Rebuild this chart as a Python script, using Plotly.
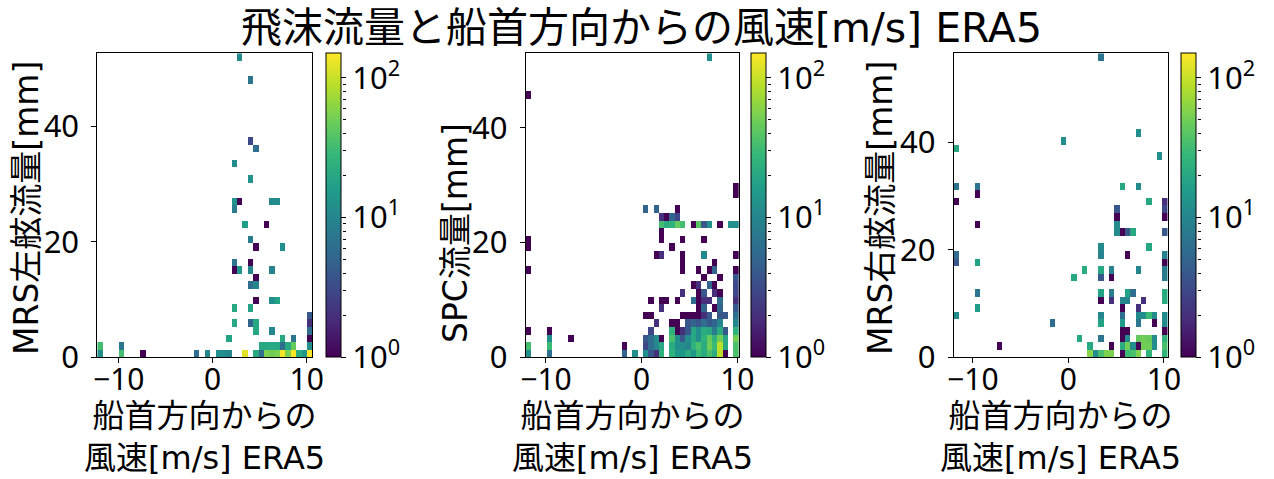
import numpy as np
import plotly.graph_objects as go

TITLE = "飛沫流量と船首方向からの風速[m/s] ERA5"
X_TITLE = "船首方向からの<br>風速[m/s] ERA5"
Y_TITLES = ["MRS左舷流量[mm]", "SPC流量[mm]", "MRS右舷流量[mm]"]
N_BINS = 40

# ---- MRS port side: wind from bow [m/s], spray flux [mm], sample count ----
port_wind_range = (-12.28, 10.6)
port_flux_range = (0.0, 52.6)
port_wind = [
    -12.0, -9.7, -7.4, -1.7, -0.5, 0.6, 1.2, 1.7, 3.4, 4.6, 5.2, 5.7, 6.3, 6.9, 7.5, 8.0, 8.6, 9.2, 9.7, 10.3,
    -12.0, -9.7, 5.2, 5.7, 6.3, 6.9, 7.5, 8.0, 8.6, 10.3,
    1.7, 7.5, 8.6, 10.3,
    4.6, 6.3, 10.3,
    2.3, 4.0, 4.6, 10.3,
    10.3,
    2.3, 4.0,
    4.6, 6.3, 6.9,
    4.0, 4.6,
    4.6,
    2.3, 2.9, 4.0, 6.3,
    2.3, 4.0,
    4.6, 7.5,
    4.0,
    3.4, 5.7,
    2.3,
    2.3, 2.9, 6.3, 6.9,
    4.0,
    2.3,
    4.6,
    4.0,
    4.0,
    2.9,
]
port_flux = [
    0.7, 0.7, 0.7, 0.7, 0.7, 0.7, 0.7, 0.7, 0.7, 0.7, 0.7, 0.7, 0.7, 0.7, 0.7, 0.7, 0.7, 0.7, 0.7, 0.7,
    2.0, 2.0, 2.0, 2.0, 2.0, 2.0, 2.0, 2.0, 2.0, 2.0,
    3.3, 3.3, 3.3, 3.3,
    4.6, 4.6, 4.6,
    5.9, 5.9, 5.9, 5.9,
    7.2,
    8.5, 8.5,
    9.9, 9.9, 9.9,
    12.5, 12.5,
    13.8,
    15.1, 15.1, 15.1, 15.1,
    16.4, 16.4,
    19.1, 19.1,
    20.4,
    23.0, 23.0,
    25.6,
    27.0, 27.0, 27.0, 27.0,
    30.9,
    33.5,
    36.2,
    37.5,
    48.0,
    51.9,
]
port_count = [
    12, 33, 1, 6, 10, 12, 12, 10, 120, 20, 6, 55, 50, 55, 140, 55, 150, 22, 14, 150,
    33, 7, 20, 20, 20, 20, 6, 20, 45, 12,
    18, 20, 7, 1,
    20, 10, 6,
    20, 5, 20, 2,
    4,
    20, 18,
    1, 12, 18,
    6, 10,
    1,
    1, 14, 10, 9,
    7, 1,
    1, 12,
    8,
    16, 1,
    8,
    13, 1, 11, 11,
    13,
    11,
    6,
    3,
    7,
    11,
]

# ---- SPC ----
spc_wind_range = (-12.12, 10.17)
spc_flux_range = (0.0, 53.0)
spc_wind = [
    -11.8, -9.6, -1.8, -0.7, 0.4, 1.0, 1.5, 2.1, 3.2, 3.8, 4.3, 4.9, 5.4, 6.0, 6.5, 7.1, 7.7, 8.2, 8.8, 9.9,
    -11.8, -9.6, -1.8, 0.4, 1.0, 1.5, 2.1, 3.2, 3.8, 4.3, 4.9, 5.4, 6.0, 6.5, 7.1, 7.7, 8.2, 8.8, 9.9,
    -9.6, -7.4, 0.4, 1.0, 1.5, 2.1, 3.2, 3.8, 4.3, 4.9, 5.4, 6.0, 6.5, 7.1, 7.7, 8.2, 8.8, 9.9,
    -11.8, -9.6, 1.0, 3.2, 3.8, 4.3, 4.9, 5.4, 6.0, 6.5, 7.1, 7.7, 8.2, 8.8, 9.9,
    1.5, 3.2, 3.8, 4.9, 5.4, 6.0, 6.5, 7.1, 7.7, 8.2, 9.9,
    0.4, 1.0, 4.3, 4.9, 5.4, 6.0, 6.5, 7.1, 8.2, 8.8, 9.9,
    2.1, 6.0, 6.5, 7.7, 8.2, 9.9,
    1.0, 2.1, 2.6, 3.8, 5.4, 6.0, 6.5, 7.1, 8.2, 9.9,
    4.3, 6.0, 6.5, 7.7, 8.2, 9.9,
    5.4, 6.0, 7.1, 7.7, 9.9,
    6.5, 8.2, 9.9,
    -11.8, 4.3, 6.0, 7.1, 7.7, 9.9,
    4.3, 7.7,
    1.5, 2.1, 4.3, 6.5, 9.9,
    -11.8, 3.2,
    -11.8, 2.1, 4.3, 6.5,
    2.1,
    2.1, 2.6, 3.2, 3.8, 4.3, 5.4, 6.0, 6.5, 7.1, 8.2, 9.3, 9.9,
    2.1, 2.6, 3.2, 3.8,
    0.4, 1.5, 3.8,
    9.9,
    9.9,
    -11.8,
    7.1,
]
spc_flux = [
    0.7, 0.7, 0.7, 0.7, 0.7, 0.7, 0.7, 0.7, 0.7, 0.7, 0.7, 0.7, 0.7, 0.7, 0.7, 0.7, 0.7, 0.7, 0.7, 0.7,
    2.0, 2.0, 2.0, 2.0, 2.0, 2.0, 2.0, 2.0, 2.0, 2.0, 2.0, 2.0, 2.0, 2.0, 2.0, 2.0, 2.0, 2.0, 2.0,
    3.3, 3.3, 3.3, 3.3, 3.3, 3.3, 3.3, 3.3, 3.3, 3.3, 3.3, 3.3, 3.3, 3.3, 3.3, 3.3, 3.3, 3.3,
    4.6, 4.6, 4.6, 4.6, 4.6, 4.6, 4.6, 4.6, 4.6, 4.6, 4.6, 4.6, 4.6, 4.6, 4.6,
    6.0, 6.0, 6.0, 6.0, 6.0, 6.0, 6.0, 6.0, 6.0, 6.0, 6.0,
    7.3, 7.3, 7.3, 7.3, 7.3, 7.3, 7.3, 7.3, 7.3, 7.3, 7.3,
    8.6, 8.6, 8.6, 8.6, 8.6, 8.6,
    9.9, 9.9, 9.9, 9.9, 9.9, 9.9, 9.9, 9.9, 9.9, 9.9,
    11.3, 11.3, 11.3, 11.3, 11.3, 11.3,
    12.6, 12.6, 12.6, 12.6, 12.6,
    13.9, 13.9, 13.9,
    15.2, 15.2, 15.2, 15.2, 15.2, 15.2,
    16.6, 16.6,
    17.9, 17.9, 17.9, 17.9, 17.9,
    19.2, 19.2,
    20.5, 20.5, 20.5, 20.5,
    21.9,
    23.2, 23.2, 23.2, 23.2, 23.2, 23.2, 23.2, 23.2, 23.2, 23.2, 23.2, 23.2,
    24.5, 24.5, 24.5, 24.5,
    25.8, 25.8, 25.8,
    28.5,
    29.8,
    45.7,
    52.3,
]
spc_count = [
    12, 6, 5, 12, 12, 4, 2, 25, 25, 14, 14, 22, 14, 30, 22, 35, 22, 90, 1, 35,
    33, 30, 1, 3, 6, 10, 20, 22, 12, 12, 10, 25, 35, 22, 50, 30, 90, 20, 35,
    12, 1, 4, 6, 12, 1, 35, 12, 4, 12, 20, 12, 25, 45, 25, 50, 20, 50,
    1, 1, 3, 25, 1, 2, 4, 20, 12, 22, 20, 8, 22, 4, 25,
    2, 1, 1, 4, 5, 4, 6, 4, 5, 10, 10,
    1, 1, 1, 1, 1, 1, 2, 4, 4, 4, 6,
    2, 1, 5, 1, 5, 4,
    1, 1, 1, 1, 6, 1, 2, 2, 6, 2,
    2, 1, 4, 2, 1, 3,
    1, 2, 5, 1, 3,
    1, 1, 4,
    1, 1, 1, 1, 5, 1,
    1, 1,
    1, 2, 1, 11, 1,
    1, 1,
    1, 1, 1, 1,
    1,
    33, 22, 25, 45, 33, 1, 40, 4, 12, 1, 12, 12,
    2, 1, 5, 3,
    5, 5, 1,
    1,
    1,
    1,
    12,
]

# ---- MRS starboard side ----
stbd_wind_range = (-12.0, 10.4)
stbd_flux_range = (0.0, 56.6)
stbd_wind = [
    2.3, 2.8, 3.4, 4.0, 4.5, 5.6, 6.2, 6.8, 7.3, 8.4, 10.1,
    -7.2, 2.3, 4.5, 5.6, 6.2, 6.8, 7.3, 7.9, 8.4, 9.0, 10.1,
    1.2, 3.4, 5.6, 6.2, 7.3, 7.9, 8.4, 9.0, 10.1,
    5.6, 6.2, 10.1,
    -1.6, 3.4, 5.6, 7.3, 9.0, 10.1,
    -11.7, 3.4, 5.6, 7.3, 7.9, 8.4, 9.0, 10.1,
    -9.5, 5.6, 7.3,
    3.4, 4.5, 5.6, 6.2, 7.9, 10.1,
    -9.5, 3.4, 4.5, 6.2, 6.8, 10.1,
    0.6, 3.4, 4.5, 10.1,
    1.7, 3.4, 4.5, 7.3, 10.1,
    -11.7, -9.5, 10.1,
    -11.7, 3.4, 6.2, 10.1,
    3.4, 8.4,
    5.1, 5.6, 6.2, 6.8, 10.1,
    -9.5, 5.1,
    5.1, 10.1,
    5.1, 10.1,
    -11.7, 8.4, 10.1,
    -9.5,
    -11.7, -9.5, 5.6, 7.3,
    9.6,
    -11.7,
    -0.5,
    7.3,
    3.4,
]
stbd_flux = [
    0.7, 0.7, 0.7, 0.7, 0.7, 0.7, 0.7, 0.7, 0.7, 0.7, 0.7,
    2.1, 2.1, 2.1, 2.1, 2.1, 2.1, 2.1, 2.1, 2.1, 2.1, 2.1,
    3.5, 3.5, 3.5, 3.5, 3.5, 3.5, 3.5, 3.5, 3.5,
    5.0, 5.0, 5.0,
    6.4, 6.4, 6.4, 6.4, 6.4, 6.4,
    7.8, 7.8, 7.8, 7.8, 7.8, 7.8, 7.8, 7.8,
    9.2, 9.2, 9.2,
    10.6, 10.6, 10.6, 10.6, 10.6, 10.6,
    12.0, 12.0, 12.0, 12.0, 12.0, 12.0,
    14.9, 14.9, 14.9, 14.9,
    16.3, 16.3, 16.3, 16.3, 16.3,
    17.7, 17.7, 17.7,
    19.1, 19.1, 19.1, 19.1,
    20.5, 20.5,
    23.3, 23.3, 23.3, 23.3, 23.3,
    24.8, 24.8,
    26.2, 26.2,
    27.6, 27.6,
    29.0, 29.0, 29.0,
    30.4,
    31.8, 31.8, 31.8, 31.8,
    37.5,
    38.9,
    40.3,
    41.7,
    55.9,
]
stbd_count = [
    60, 12, 35, 55, 55, 1, 30, 35, 55, 25, 25,
    1, 20, 1, 22, 50, 12, 1, 50, 50, 12, 35,
    20, 7, 1, 11, 45, 50, 45, 11, 25,
    1, 1, 1,
    6, 18, 16, 7, 1, 11,
    11, 10, 6, 11, 12, 30, 11, 11,
    16, 1, 2,
    1, 2, 10, 10, 2, 22,
    7, 18, 8, 18, 6, 22,
    20, 4, 1, 8,
    22, 20, 9, 10, 8,
    4, 18, 1,
    6, 9, 1, 9,
    11, 20,
    11, 1, 4, 20, 4,
    1, 11,
    1, 1,
    4, 3,
    1, 20, 2,
    1,
    7, 7, 20, 11,
    12,
    20,
    12,
    12,
    7,
]

LABEL_FONT = "DejaVu Sans, Noto Sans CJK JP, sans-serif"
TICK_FONT = "Noto Sans, DejaVu Sans, sans-serif"
W, H = 1274, 479

panels = [
    (port_wind, port_flux, port_count, port_wind_range, port_flux_range),
    (spc_wind, spc_flux, spc_count, spc_wind_range, spc_flux_range),
    (stbd_wind, stbd_flux, stbd_count, stbd_wind_range, stbd_flux_range),
]

# pixel layout of the three axes boxes, colour bars and axis labels
x_px = [(97.3, 312.3), (525.7, 739.0), (953.7, 1167.7)]
cb_px = [326.0, 751.0, 1181.0]
cb_w = 15
ylab_x_px = [26.0, 455.0, 880.0]
ylab_bottom_px = [357.0, 345.0, 357.0]
y_top_px, y_bot_px = 53.3, 357.3
y_dom = [1 - y_bot_px / H, 1 - y_top_px / H]

# shared logarithmic colour normalisation
z_top = np.log10(max(max(port_count), max(spc_count), max(stbd_count)))
minor_counts = [2, 3, 4, 5, 6, 7, 8, 9, 20, 30, 40, 50, 60, 70, 80, 90]

fig = go.Figure()
annotations = []
for i, (wind, flux, count, wr, fr) in enumerate(panels):
    xe = np.linspace(wr[0], wr[1], N_BINS + 1)
    ye = np.linspace(fr[0], fr[1], N_BINS + 1)
    h, _, _ = np.histogram2d(wind, flux, bins=[xe, ye], weights=count)
    z = np.full(h.shape, np.nan)
    z[h > 0] = np.log10(h[h > 0])
    sfx = "" if i == 0 else str(i + 1)
    fig.add_trace(go.Heatmap(
        x=xe, y=ye, z=z.T,
        xaxis="x" + sfx, yaxis="y" + sfx,
        colorscale="Viridis", zmin=0, zmax=z_top,
        hoverongaps=False,
        colorbar=dict(
            x=cb_px[i] / W, xanchor="left", xpad=0,
            y=y_dom[0], yanchor="bottom", ypad=0,
            len=y_bot_px - y_top_px, lenmode="pixels",
            thickness=cb_w, thicknessmode="pixels",
            outlinewidth=1, outlinecolor="black",
            ticks="outside", ticklen=5, tickwidth=1, tickcolor="black",
            tickvals=[0, 1, 2],
            ticktext=["10<sup>0</sup>", "10<sup>1</sup>", "10<sup>2</sup>"],
            tickfont=dict(size=31, color="black", family=TICK_FONT),
        ),
    ))
    ax = dict(
        domain=[x_px[i][0] / W, x_px[i][1] / W],
        range=list(wr), anchor="y" + sfx, automargin=False,
        tickvals=[-10, 0, 10], ticklabelstandoff=-9,
        showline=True, mirror=True, linecolor="black", linewidth=1,
        ticks="outside", ticklen=5, tickcolor="black",
        showgrid=False, zeroline=False,
        tickfont=dict(size=30, color="black", family=TICK_FONT),
    )
    ay = dict(
        domain=y_dom, range=list(fr), anchor="x" + sfx, automargin=False,
        tickvals=[0, 20, 40], ticklabelstandoff=6,
        showline=True, mirror=True, linecolor="black", linewidth=1,
        ticks="outside", ticklen=5, tickcolor="black",
        showgrid=False, zeroline=False,
        tickfont=dict(size=31, color="black", family=TICK_FONT),
    )
    fig.layout["xaxis" + sfx] = ax
    fig.layout["yaxis" + sfx] = ay

    # minor ticks of the logarithmic colour bar
    k = i + 4
    fig.add_trace(go.Scatter(x=[], y=[], xaxis="x" + sfx, yaxis="y%d" % k,
                             showlegend=False, hoverinfo="skip"))
    fig.layout["yaxis%d" % k] = dict(
        type="log", range=[0, z_top], domain=y_dom,
        anchor="free", overlaying="y" + sfx, side="right",
        position=(cb_px[i] + cb_w + 1) / W,
        tickvals=minor_counts, showticklabels=False,
        ticks="outside", ticklen=3, tickwidth=1, tickcolor="black",
        showline=False, showgrid=False, zeroline=False,
    )

    annotations.append(dict(
        text=X_TITLE, xref="paper", yref="paper",
        x=(x_px[i][0] + x_px[i][1]) / 2 / W, y=1 - 436.5 / H,
        xanchor="center", yanchor="middle", showarrow=False,
        font=dict(size=32, color="black", family=LABEL_FONT),
    ))
    annotations.append(dict(
        text=Y_TITLES[i], xref="paper", yref="paper", textangle=-90,
        x=ylab_x_px[i] / W, y=1 - ylab_bottom_px[i] / H,
        xanchor="center", yanchor="bottom", showarrow=False,
        font=dict(size=33, color="black", family=LABEL_FONT),
    ))

fig.update_layout(
    width=W, height=H,
    margin=dict(l=0, r=0, t=0, b=0),
    paper_bgcolor="white", plot_bgcolor="white",
    title=dict(text=TITLE, x=641.5 / W, xanchor="center",
               y=1 - 28 / H, yanchor="middle",
               font=dict(size=41, color="black", family=LABEL_FONT)),
    annotations=annotations,
    showlegend=False,
)

fig.write_html("out.html")
